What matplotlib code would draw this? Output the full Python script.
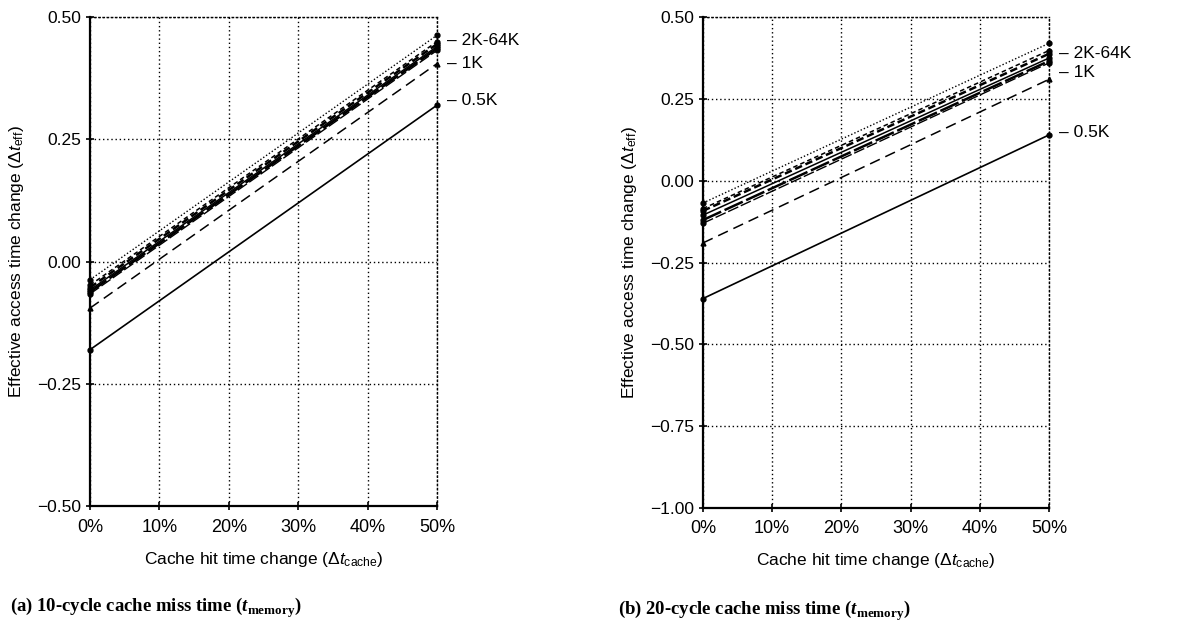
import numpy as np
import matplotlib
matplotlib.use('Agg')
import matplotlib.pyplot as plt

plt.rcParams['font.family'] = ['Liberation Sans', 'DejaVu Sans']
plt.rcParams['mathtext.fontset'] = 'custom'
plt.rcParams['mathtext.rm'] = 'Liberation Sans'
plt.rcParams['mathtext.it'] = 'Liberation Sans:italic'
plt.rcParams['mathtext.bf'] = 'Liberation Serif:bold'
plt.rcParams['mathtext.bfit'] = 'Liberation Serif:bold:italic'

# cache hit time change (%), only the two end points are read
hit_change = [0, 50]

sizes = ['0.5K', '1K', '2K', '4K', '8K', '16K', '32K', '64K']

# (a) 10-cycle miss time: value at 0% and at 50%
a_start = [-0.18, -0.095, -0.066, -0.062, -0.058, -0.053, -0.048, -0.037]
a_end = [0.32, 0.405, 0.432, 0.436, 0.440, 0.445, 0.450, 0.463]

# (b) 20-cycle miss time
b_start = [-0.36, -0.19, -0.13, -0.12, -0.105, -0.092, -0.085, -0.068]
b_end = [0.14, 0.31, 0.36, 0.366, 0.375, 0.388, 0.398, 0.42]

a_yticks = [-0.50, -0.25, 0.00, 0.25, 0.50]
b_yticks = [-1.00, -0.75, -0.50, -0.25, 0.00, 0.25, 0.50]
xticks = [0, 10, 20, 30, 40, 50]

group_labels = ['2K-64K', '1K', '0.5K']
a_label_y = [0.452, 0.405, 0.33]
b_label_y = [0.39, 0.33, 0.147]

styles = {
    '0.5K': dict(ls='-', lw=1.2, marker='o'),
    '1K': dict(ls=(0, (7, 4)), lw=1.1, marker='^'),
    '2K': dict(ls=(0, (8, 2)), lw=1.0, marker='o'),
    '4K': dict(ls=(0, (8, 1.5)), lw=1.8, marker='o'),
    '8K': dict(ls='-', lw=1.1, marker='o'),
    '16K': dict(ls=(0, (3, 1.5)), lw=1.8, marker='o'),
    '32K': dict(ls=(0, (3, 2)), lw=1.1, marker='o'),
    '64K': dict(ls=(0, (1, 1.5)), lw=1.0, marker='o'),
}


def draw_panel(ax, starts, ends, yticks, label_y, caption, cap_x):
    for s, y0, y1 in zip(sizes, starts, ends):
        st = styles[s]
        ax.plot(hit_change, [y0, y1], color='black', linestyle=st['ls'], lw=st['lw'],
                marker=st['marker'], markersize=3.5, clip_on=False, zorder=3)
    ax.set_xlim(0, 50)
    ax.set_ylim(yticks[0], yticks[-1])
    ax.set_xticks(xticks)
    ax.set_xticklabels(['%d%%' % v for v in xticks], fontsize=13)
    ax.set_yticks(yticks)
    ax.set_yticklabels([('%.2f' % v).replace('-', '\u2212') for v in yticks], fontsize=12.5)
    ax.grid(True, color='black', linestyle=(0, (1, 2)), linewidth=1.0)
    for side in ['top', 'right']:
        ax.spines[side].set_linestyle((0, (1, 2)))
        ax.spines[side].set_linewidth(1.0)
    for side in ['left', 'bottom']:
        ax.spines[side].set_linewidth(1.6)
    ax.tick_params(direction='inout', length=6, width=1.2)
    ax.tick_params(axis='x', pad=6)
    ax.set_xlabel('Cache hit time change (Δ$\\mathit{t}_{\\mathrm{cache}}$)', fontsize=12.5, labelpad=10)
    ax.set_ylabel('Effective access time change (Δ$\\mathit{t}_{\\mathrm{eff}}$)', fontsize=12.5, labelpad=8)
    for txt, y in zip(group_labels, label_y):
        ax.annotate('\u2013 ' + txt, xy=(50, y), xytext=(7, 0), textcoords='offset points',
                    va='center', ha='left', fontsize=12.5, annotation_clip=False)
    ax.text(cap_x, -0.209, caption, transform=ax.transAxes, fontsize=13.5,
            family=['Liberation Serif'], fontweight='bold', ha='left', va='center')


fig = plt.figure(figsize=(11.99, 6.21), dpi=100)
ax1 = fig.add_axes([0.0751, 0.185, 0.2894, 0.7874])
ax2 = fig.add_axes([0.5863, 0.182, 0.2886, 0.7904])

draw_panel(ax1, a_start, a_end, a_yticks, a_label_y,
           '(a) 10-cycle cache miss time ($\\mathbfit{t}_{\\mathbf{memory}}$)', -0.23)
draw_panel(ax2, b_start, b_end, b_yticks, b_label_y,
           '(b) 20-cycle cache miss time ($\\mathbfit{t}_{\\mathbf{memory}}$)', -0.245)

fig.savefig('out.png', dpi=100)
